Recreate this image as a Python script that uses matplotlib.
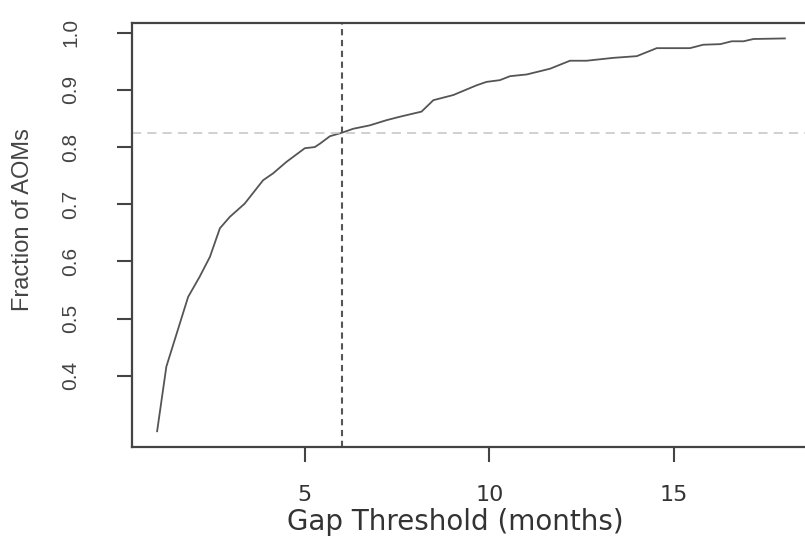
import matplotlib
matplotlib.use("Agg")
import matplotlib.pyplot as plt

# ====================================
# DATA
# ====================================

gap_months = [1.0, 1.25, 1.84, 2.15, 2.43, 2.70, 2.97, 3.37, 3.87, 4.14,
              4.50, 5.0, 5.27, 5.41, 5.68, 6.0, 6.31, 6.76, 7.21, 7.57,
              8.16, 8.48, 9.02, 9.65, 9.92, 10.28, 10.56, 11.01, 11.64, 12.18,
              12.63, 13.35, 13.99, 14.53, 15.43, 15.79, 16.25, 16.56, 16.88, 17.15,
              18.0]
fraction_aoms = [0.303, 0.416, 0.538, 0.573, 0.608, 0.658, 0.678, 0.701, 0.742, 0.754,
                 0.774, 0.798, 0.800, 0.806, 0.819, 0.825, 0.832, 0.838, 0.847, 0.853,
                 0.862, 0.882, 0.891, 0.908, 0.914, 0.917, 0.924, 0.927, 0.937, 0.951,
                 0.951, 0.956, 0.959, 0.973, 0.973, 0.979, 0.980, 0.985, 0.985, 0.989,
                 0.990]

threshold_x = 6
threshold_y = 0.824

x_ticks = [5, 10, 15]
y_ticks = [0.4, 0.5, 0.6, 0.7, 0.8, 0.9, 1.0]

# ====================================
# FIGURE
# ====================================

fig = plt.figure(figsize=(8.05, 5.44), dpi=100)
ax = fig.add_axes([132 / 805, 1 - 447 / 544, (810 - 132) / 805, (447 - 22.7) / 544])

ax.plot(gap_months, fraction_aoms, color="#555555", lw=1.3)
ax.axvline(threshold_x, color="#555555", lw=1.5, linestyle=(0, (3, 2.2)))
ax.axhline(threshold_y, color="#c4c4c4", lw=1.1, linestyle=(0, (6, 4)))

ax.set_xlim(0.32, 18.68)
ax.set_ylim(0.2755, 1.0175)

for s in ax.spines.values():
    s.set_color("#444444")
    s.set_linewidth(1.6)

ax.set_xticks(x_ticks)
ax.set_xticklabels([str(t) for t in x_ticks], family="DejaVu Sans",
                   fontsize=16, color="#333333")
ax.set_yticks(y_ticks)
ax.set_yticklabels([f"{t:.1f}" for t in y_ticks], family="Liberation Sans",
                   fontsize=15, color="#444444", rotation=90, va="center")

ax.tick_params(axis="x", length=10.5, width=1.5, color="#444444", pad=17)
ax.tick_params(axis="y", length=10.5, width=1.5, color="#444444", pad=27)

fig.text(287 / 805, 1 - 522 / 544, "Gap Threshold (months)", family="DejaVu Sans",
         fontsize=20, color="#333333", ha="left", va="center")
fig.text(23 / 805, 1 - 220 / 544, "Fraction of AOMs", family="Liberation Sans",
         fontsize=17, color="#444444", rotation=90, ha="center", va="center")

fig.savefig("out.png", dpi=100)
